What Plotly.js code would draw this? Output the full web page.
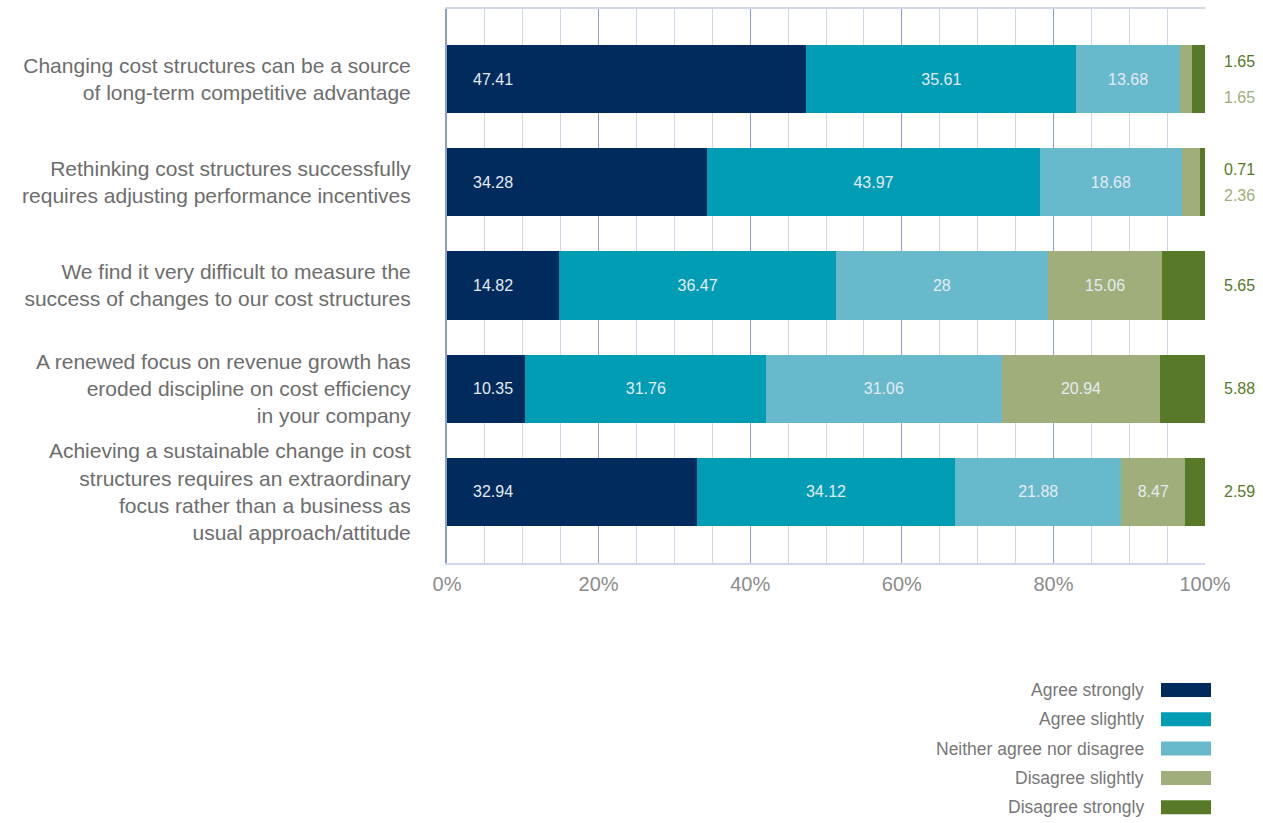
<!DOCTYPE html>
<html>
<head>
<meta charset="utf-8">
<script src="https://cdn.plot.ly/plotly-3.0.1.min.js"></script>
<style>html,body{margin:0;padding:0;background:#fff;}#chart{width:1263px;height:823px;}</style>
</head>
<body>
<div id="chart"></div>
<script>
const categories = [
  "Changing cost structures can be a source<br>of long-term competitive advantage",
  "Rethinking cost structures successfully<br>requires adjusting performance incentives",
  "We find it very difficult to measure the<br>success of changes to our cost structures",
  "A renewed focus on revenue growth has<br>eroded discipline on cost efficiency<br>in your company",
  "Achieving a sustainable change in cost<br>structures requires an extraordinary<br>focus rather than a business as<br>usual approach/attitude"
];
const seriesNames = ["Agree strongly", "Agree slightly", "Neither agree nor disagree", "Disagree slightly", "Disagree strongly"];
const agreeStrongly = [47.41, 34.28, 14.82, 10.35, 32.94];
const agreeSlightly = [35.61, 43.97, 36.47, 31.76, 34.12];
const neither = [13.68, 18.68, 28, 31.06, 21.88];
const disagreeSlightly = [1.65, 2.36, 15.06, 20.94, 8.47];
const disagreeStrongly = [1.65, 0.71, 5.65, 5.88, 2.59];
const xTickVals = [0, 20, 40, 60, 80, 100];

const colors = ["#002b5c", "#009db5", "#68b9cc", "#a0ae7c", "#587a28"];
const seriesValues = [agreeStrongly, agreeSlightly, neither, disagreeSlightly, disagreeStrongly];
const FONT = "Liberation Sans, Arial, sans-serif";
const labelColor = "#e4ebf2";

const traces = seriesValues.map((vals, i) => ({
  type: "bar",
  orientation: "h",
  name: seriesNames[i],
  y: categories,
  x: vals,
  marker: {color: colors[i], line: {width: 0}},
  text: vals.map(v => (i === 0 || i === 4 || v < 5) ? "" : String(v)),
  texttemplate: "%{text}",
  textposition: "inside",
  insidetextanchor: "middle",
  textangle: 0,
  constraintext: "none",
  textfont: {family: FONT, size: 16, color: labelColor},
  hoverinfo: "skip",
  showlegend: false
}));

const annotations = [];
categories.forEach((c, k) => {
  annotations.push({x: 0, y: c, xref: "x", yref: "y", text: String(agreeStrongly[k]),
    xanchor: "left", xshift: 24, showarrow: false,
    font: {family: FONT, size: 16, color: labelColor}});
});
categories.forEach((c, k) => {
  const hiddenSlight = disagreeSlightly[k] < 5;
  const off = k === 0 ? 18 : 13;
  annotations.push({x: 100, y: c, xref: "x", yref: "y", text: String(disagreeStrongly[k]),
    xanchor: "left", xshift: 17, yshift: hiddenSlight ? off : 0, showarrow: false,
    font: {family: FONT, size: 16, color: colors[4]}});
  if (hiddenSlight) {
    annotations.push({x: 100, y: c, xref: "x", yref: "y", text: String(disagreeSlightly[k]),
      xanchor: "left", xshift: 17, yshift: -off, showarrow: false,
      font: {family: FONT, size: 16, color: colors[3]}});
  }
});
// custom legend (text left, swatch right), page pixel coords converted to paper coords
const plotTop = 9, plotH = 823 - 9 - 260, plotL = 447, plotW = 758;
const shapes = [];
seriesNames.forEach((n, i) => {
  const yc = 690 + i * 29.3;
  annotations.push({xref: "paper", yref: "paper", x: (1146 - plotL) / plotW, y: 1 - (yc - plotTop) / plotH,
    xanchor: "right", yanchor: "middle", text: n, showarrow: false,
    font: {family: FONT, size: 17.5, color: "#777777"}});
  shapes.push({type: "rect", xref: "paper", yref: "paper",
    x0: (1161 - plotL) / plotW, x1: (1211 - plotL) / plotW,
    y0: 1 - (yc + 7 - plotTop) / plotH, y1: 1 - (yc - 7 - plotTop) / plotH,
    fillcolor: colors[i], line: {width: 0}});
});

const layout = {
  width: 1263, height: 823,
  margin: {l: 447, r: 58, t: 9, b: 260},
  barmode: "stack",
  bargap: 0.34,
  paper_bgcolor: "#ffffff",
  plot_bgcolor: "#ffffff",
  showlegend: false,
  xaxis: {
    range: [0, 100],
    tickvals: xTickVals,
    ticktext: xTickVals.map(v => v + "%"),
    showgrid: true, gridcolor: "#8e9ccf", gridwidth: 1,
    minor: {dtick: 5, tick0: 0, showgrid: true, gridcolor: "#d3d7ec", gridwidth: 1},
    showline: true, linecolor: "#d3d7ec", linewidth: 2, mirror: true,
    zeroline: false,
    ticks: "",
    tickfont: {family: FONT, size: 20, color: "#8c8c8c"},
    ticklabelstandoff: 2,
    fixedrange: true
  },
  yaxis: {
    type: "category",
    range: [4.69, -0.68],
    showgrid: false, zeroline: false,
    showline: true, linecolor: "#8e9ccf", linewidth: 2,
    ticks: "",
    tickfont: {family: FONT, size: 21, color: "#6d6d6d"},
    ticklabelstandoff: 30,
    fixedrange: true
  },
  annotations: annotations,
  shapes: shapes
};

Plotly.newPlot("chart", traces, layout, {displayModeBar: false, staticPlot: true});
</script>
</body>
</html>
